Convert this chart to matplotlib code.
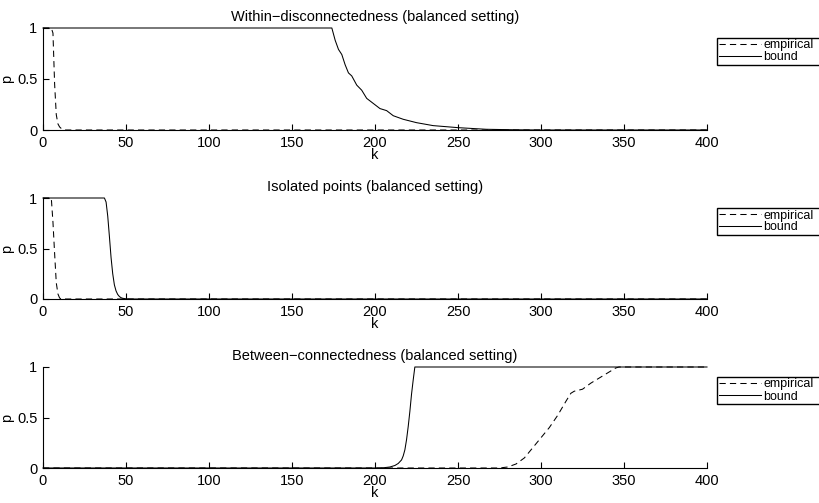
import matplotlib
matplotlib.use("Agg")
import matplotlib.pyplot as plt

plt.rcParams['font.family'] = ['Liberation Sans', 'DejaVu Sans']
plt.rcParams['lines.scale_dashes'] = False

# ---------------- data ----------------
k_ticks = [0, 50, 100, 150, 200, 250, 300, 350, 400]
p_ticks = [0, 0.5, 1]
p_tick_labels = ["0", "0.5", "1"]

titles = ["Within\u2212disconnectedness (balanced setting)",
          "Isolated points (balanced setting)",
          "Between\u2212connectedness (balanced setting)"]
legend_labels = ["empirical", "bound"]

within_emp_k = [0, 5, 6, 7, 8, 9, 10, 11, 12, 13, 400]
within_emp_p = [1, 1, 0.95, 0.45, 0.15, 0.06, 0.03, 0.015, 0.005, 0, 0]
within_bound_k = [0, 174, 176, 178, 180, 182, 184, 186, 187, 189, 192, 195, 199,
                  203, 207, 211, 217, 225, 235, 250, 267, 285, 300, 400]
within_bound_p = [1, 1, 0.88, 0.79, 0.74, 0.64, 0.56, 0.53, 0.50, 0.44, 0.39, 0.31, 0.26,
                  0.21, 0.19, 0.14, 0.105, 0.072, 0.043, 0.023, 0.007, 0.002, 0, 0]

isolated_emp_k = [0, 5, 6, 7, 8, 9, 10, 11, 400]
isolated_emp_p = [1, 1, 0.76, 0.45, 0.16, 0.05, 0.01, 0, 0]
isolated_bound_k = [0, 37, 38, 39, 40, 41, 42, 43, 44, 45, 46, 47, 48, 50, 52, 400]
isolated_bound_p = [1, 1, 0.96, 0.82, 0.62, 0.41, 0.25, 0.14, 0.08, 0.045, 0.025,
                    0.013, 0.007, 0.002, 0, 0]

between_emp_k = [0, 275, 280, 285, 290, 295, 300, 305, 310, 315, 318, 320, 325,
                 330, 335, 340, 345, 347, 400]
between_emp_p = [0, 0, 0.01, 0.04, 0.1, 0.2, 0.3, 0.4, 0.52, 0.66, 0.74, 0.76, 0.78,
                 0.84, 0.89, 0.94, 0.99, 1, 1]
between_bound_k = [0, 203, 206, 209, 212, 214, 216, 217, 218, 219, 220, 221, 222,
                   223, 224, 400]
between_bound_p = [0, 0, 0.004, 0.01, 0.025, 0.045, 0.08, 0.12, 0.18, 0.28, 0.41,
                   0.56, 0.73, 0.87, 1, 1]

panels = [
    (within_emp_k, within_emp_p, within_bound_k, within_bound_p),
    (isolated_emp_k, isolated_emp_p, isolated_bound_k, isolated_bound_p),
    (between_emp_k, between_emp_p, between_bound_k, between_bound_p),
]

# ---------------- layout ----------------
W, H = 820, 503
fig = plt.figure(figsize=(W / 100, H / 100), dpi=100)
fig.patch.set_facecolor('white')

axes_px = [(43, 28, 664, 102), (43, 198, 664, 101), (43, 367, 664, 101)]
FS = 10.5

for (x0, y0, w, h), title, (ek, ep, bk, bp) in zip(axes_px, titles, panels):
    ax = fig.add_axes([x0 / W, 1 - (y0 + h) / H, w / W, h / H])
    ax.plot(ek, ep, color='black', lw=0.75, linestyle=(0, (4.5, 3.0)),
            clip_on=False, label=legend_labels[0])
    ax.plot(bk, bp, color='black', lw=0.75, linestyle='-',
            clip_on=False, label=legend_labels[1])
    ax.set_xlim(0, 400)
    ax.set_ylim(0, 1)
    ax.set_xticks(k_ticks)
    ax.set_yticks(p_ticks)
    ax.set_yticklabels(p_tick_labels)
    for s in ['top', 'right']:
        ax.spines[s].set_visible(False)
    for s in ['left', 'bottom']:
        ax.spines[s].set_linewidth(0.8)
        ax.spines[s].set_color('black')
    ax.tick_params(direction='in', length=4, width=0.8, labelsize=FS,
                   colors='black')
    ax.tick_params(axis='x', pad=4)
    ax.tick_params(axis='y', pad=4)
    ax.set_xlabel('k', fontsize=FS, labelpad=-1)
    ax.set_ylabel('p', fontsize=FS, labelpad=2)
    ax.set_title(title, fontsize=FS, pad=5)
    leg = ax.legend(loc='upper left',
                    bbox_to_anchor=(1 + 10 / w, 1 - 38 / h, 130 / w, 28 / h),
                    mode='expand',
                    borderaxespad=0, fontsize=9, frameon=True, fancybox=False,
                    handlelength=3.4, handletextpad=0.2, labelspacing=0.0,
                    borderpad=0.12)
    fr = leg.get_frame()
    fr.set_edgecolor('black')
    fr.set_linewidth(1.0)
    fr.set_alpha(1)

fig.savefig('out.png', dpi=100, facecolor='white')
